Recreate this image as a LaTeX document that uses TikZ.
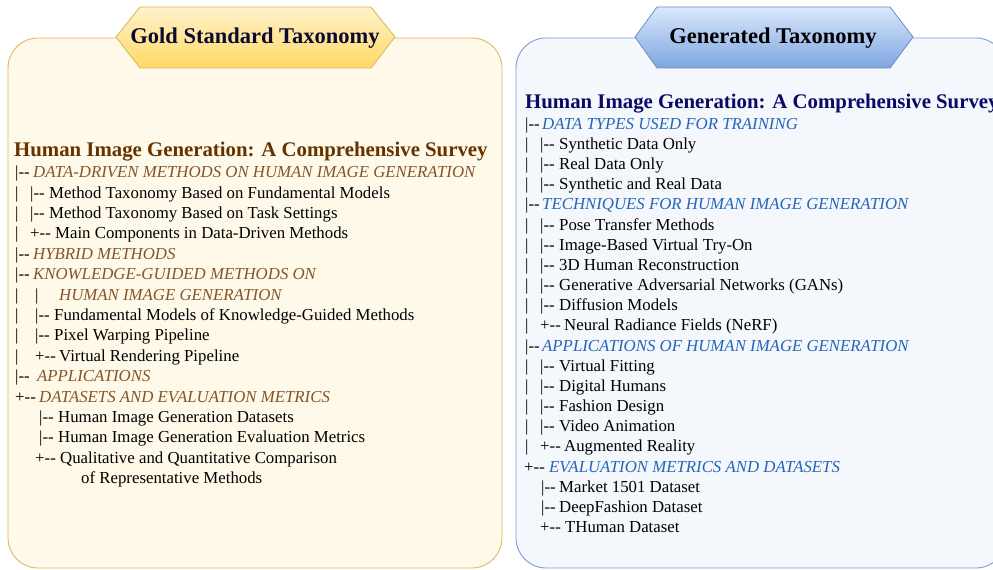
\documentclass[tikz,border=0pt]{standalone}
\usepackage{fontspec}
\setmainfont{Liberation Serif}
\definecolor{goldfill}{HTML}{FEF9E8}
\definecolor{golddraw}{HTML}{E0B862}
\definecolor{goldtop}{HTML}{FFF2CC}
\definecolor{goldbot}{HTML}{FFD966}
\definecolor{goldhex}{HTML}{D6B656}
\definecolor{bluefill}{HTML}{F4F7FB}
\definecolor{bluedraw}{HTML}{7C9FD0}
\definecolor{bluetop}{HTML}{DAE8FC}
\definecolor{bluebot}{HTML}{7EA6E0}
\definecolor{bluehex}{HTML}{6C8EBF}
\definecolor{ltitlec}{HTML}{663300}
\definecolor{lcatc}{HTML}{85552A}
\definecolor{rtitlec}{HTML}{0A0A66}
\definecolor{rcatc}{HTML}{2466B8}
\definecolor{headc}{HTML}{0B0B30}
\newcommand\lcat[1]{{\itshape\color{lcatc}#1}}
\newcommand\rcat[1]{{\itshape\color{rcatc}#1}}
\newcommand\bd{|-{}-}
\newcommand\pd{+-{}-}
\newcommand\mb[2]{\makebox[#1pt][l]{#2}}
\tikzset{
  txt/.style={anchor=base west, inner sep=0pt, font=\fontsize{16.8}{20}\selectfont},
  ttl/.style={anchor=base west, inner sep=0pt, font=\fontsize{20.8}{24}\selectfont\bfseries},
  head/.style={anchor=base, inner sep=0pt, font=\fontsize{22.5}{26}\selectfont\bfseries},
  panel/.style={rounded corners=30pt, line width=0.9pt},
  hexa/.style={line width=0.8pt}
}
\begin{document}
\begin{tikzpicture}[x=1pt,y=1pt]
\clip (0,0) rectangle (993,570);
% panels
\draw[panel, fill=goldfill, draw=golddraw] (8,2) rectangle (502,532);
\draw[panel, fill=bluefill, draw=bluedraw] (516,2) rectangle (1006,532);
% hexagon headers
\path[hexa, top color=goldtop, bottom color=goldbot, draw=goldhex]
  (116,533) -- (140,563) -- (371,563) -- (395,533) -- (371,502) -- (140,502) -- cycle;
\node[head, text=headc] (lhead) at (255,526) {Gold Standard Taxonomy};
\path[hexa, top color=bluetop, bottom color=bluebot, draw=bluehex]
  (635,533) -- (657,563) -- (890,563) -- (913,533) -- (890,502) -- (657,502) -- cycle;
\node[head, text=black] (rhead) at (773,526) {Generated Taxonomy};
% left taxonomy
\node[ttl, text=ltitlec] (lt) at (14,413.3) {Human Image Generation: A Comprehensive Survey};
\node[txt] (l1) at (15,392.3) {\mb{18}{\bd}\lcat{DATA-DRIVEN METHODS ON HUMAN IMAGE GENERATION}};
\node[txt] (l2) at (15,371.9) {\mb{15}{|}\mb{19}{\bd}Method Taxonomy Based on Fundamental Models};
\node[txt] (l3) at (15,351.5) {\mb{15}{|}\mb{19}{\bd}Method Taxonomy Based on Task Settings};
\node[txt] (l4) at (15,331.1) {\mb{15}{|}\mb{25}{\pd}Main Components in Data-Driven Methods};
\node[txt] (l5) at (15,310.7) {\mb{18}{\bd}\lcat{HYBRID METHODS}};
\node[txt] (l6) at (15,290.3) {\mb{18}{\bd}\lcat{KNOWLEDGE-GUIDED METHODS ON}};
\node[txt] (l7) at (15,269.9) {\mb{20}{|}\mb{24}{|}\lcat{HUMAN IMAGE GENERATION}};
\node[txt] (l8) at (15,249.5) {\mb{20}{|}\mb{19}{\bd}Fundamental Models of Knowledge-Guided Methods};
\node[txt] (l9) at (15,229.1) {\mb{20}{|}\mb{19}{\bd}Pixel Warping Pipeline};
\node[txt] (l10) at (15,208.7) {\mb{20}{|}\mb{24}{\pd}Virtual Rendering Pipeline};
\node[txt] (l11) at (15,188.3) {\mb{22}{\bd}\lcat{APPLICATIONS}};
\node[txt] (l12) at (15,167.9) {\mb{24}{\pd}\lcat{DATASETS AND EVALUATION METRICS}};
\node[txt] (l13) at (39,147.5) {\mb{19}{\bd}Human Image Generation Datasets};
\node[txt] (l14) at (39,127.1) {\mb{19}{\bd}Human Image Generation Evaluation Metrics};
\node[txt] (l15) at (35,106.7) {\mb{25}{\pd}Qualitative and Quantitative Comparison};
\node[txt] (l16) at (81,86.3) {of Representative Methods};
% right taxonomy
\node[ttl, text=rtitlec] (rt) at (525,461.7) {Human Image Generation: A Comprehensive Survey};
\node[txt] (r1) at (525,440.7) {\mb{17}{\bd}\rcat{DATA TYPES USED FOR TRAINING}};
\node[txt] (r2) at (525,420.5) {\mb{15}{|}\mb{19}{\bd}Synthetic Data Only};
\node[txt] (r3) at (525,400.4) {\mb{15}{|}\mb{19}{\bd}Real Data Only};
\node[txt] (r4) at (525,380.2) {\mb{15}{|}\mb{19}{\bd}Synthetic and Real Data};
\node[txt] (r5) at (525,360.0) {\mb{17}{\bd}\rcat{TECHNIQUES FOR HUMAN IMAGE GENERATION}};
\node[txt] (r6) at (525,339.9) {\mb{15}{|}\mb{19}{\bd}Pose Transfer Methods};
\node[txt] (r7) at (525,319.7) {\mb{15}{|}\mb{19}{\bd}Image-Based Virtual Try-On};
\node[txt] (r8) at (525,299.5) {\mb{15}{|}\mb{19}{\bd}3D Human Reconstruction};
\node[txt] (r9) at (525,279.4) {\mb{15}{|}\mb{19}{\bd}Generative Adversarial Networks (GANs)};
\node[txt] (r10) at (525,259.2) {\mb{15}{|}\mb{19}{\bd}Diffusion Models};
\node[txt] (r11) at (525,239.0) {\mb{15}{|}\mb{24}{\pd}Neural Radiance Fields (NeRF)};
\node[txt] (r12) at (525,218.9) {\mb{17}{\bd}\rcat{APPLICATIONS OF HUMAN IMAGE GENERATION}};
\node[txt] (r13) at (525,198.7) {\mb{15}{|}\mb{19}{\bd}Virtual Fitting};
\node[txt] (r14) at (525,178.5) {\mb{15}{|}\mb{19}{\bd}Digital Humans};
\node[txt] (r15) at (525,158.4) {\mb{15}{|}\mb{19}{\bd}Fashion Design};
\node[txt] (r16) at (525,138.2) {\mb{15}{|}\mb{19}{\bd}Video Animation};
\node[txt] (r17) at (525,118.0) {\mb{15}{|}\mb{24}{\pd}Augmented Reality};
\node[txt] (r18) at (524,97.9) {\mb{25}{\pd}\rcat{EVALUATION METRICS AND DATASETS}};
\node[txt] (r19) at (541,77.7) {\mb{18}{\bd}Market 1501 Dataset};
\node[txt] (r20) at (541,57.5) {\mb{18}{\bd}DeepFashion Dataset};
\node[txt] (r21) at (540,37.3) {\mb{25}{\pd}THuman Dataset};
\end{tikzpicture}
\end{document}
